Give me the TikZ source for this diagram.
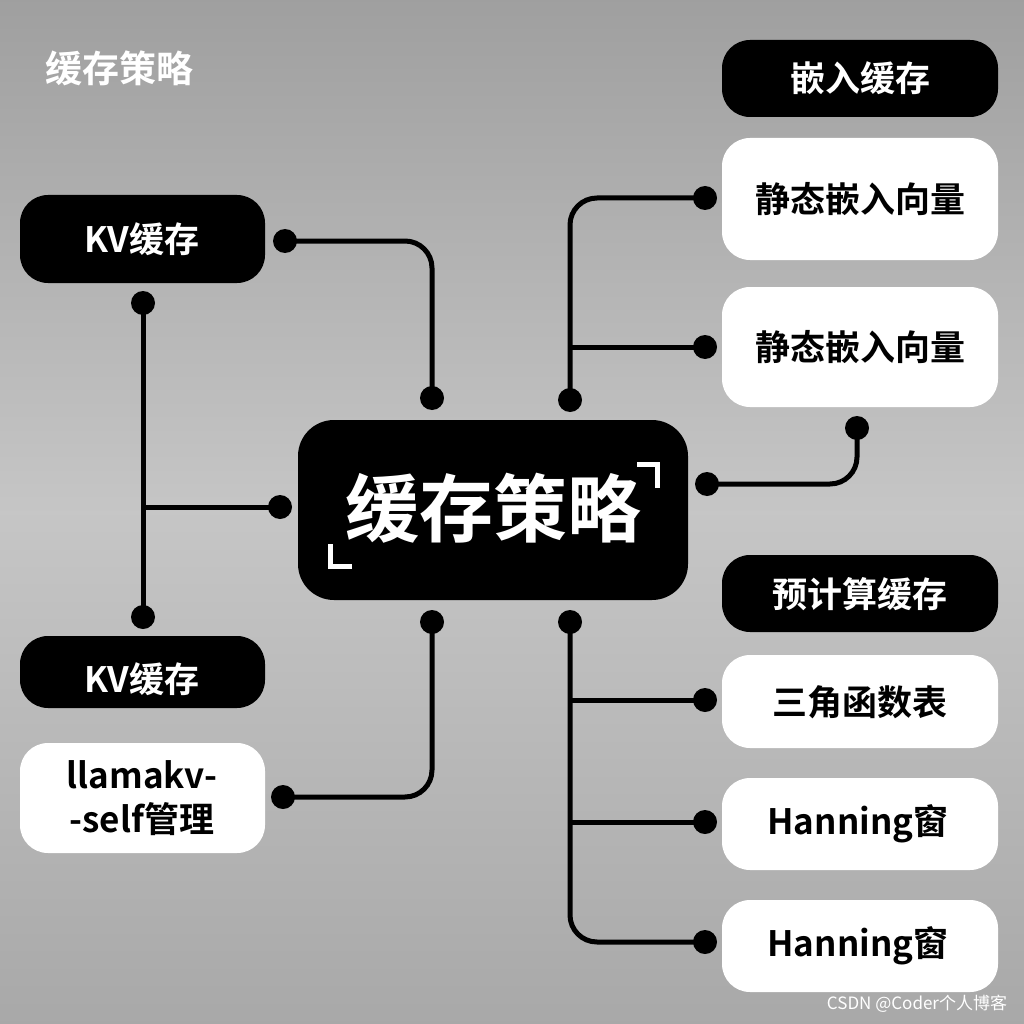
\documentclass[tikz,border=0pt]{standalone}
\usepackage{fontspec}
\setmainfont{Noto Sans CJK SC}[BoldFont={Noto Sans CJK SC Bold}]
\newfontfamily\cjkb{Noto Sans CJK SC Bold}
\begin{document}
\begin{tikzpicture}[x=1pt,y=-1pt,
  blk/.style={draw=none,fill=black,rounded corners=28pt},
  wht/.style={draw=none,fill=white,rounded corners=28pt},
  tx/.style={font=\cjkb\fontsize{35}{42}\selectfont},
  ln/.style={line width=5pt,black},
  dt/.style={circle,fill=black,inner sep=0pt,minimum size=24pt}]
\shade[top color=gray!75,bottom color=gray!68,middle color=gray!45] (0,0) rectangle (1024,1024);
\useasboundingbox (0,0) rectangle (1024,1024);
\node[text=white,font=\cjkb\fontsize{37}{42}\selectfont] (title) at (119,68) {缓存策略};
% boxes
\fill[blk] (20,195) rectangle (265,283); \node[tx,text=white] (kv1) at (142,239) {KV缓存};
\fill[blk] (20,636) rectangle (265,708); \node[tx,text=white] (kv2) at (142,679) {KV缓存};
\fill[wht] (20,743) rectangle (265,853); \node[tx,align=center,font=\cjkb\fontsize{35}{44}\selectfont] (llama) at (142,798) {llamakv-\\-self管理};
\fill[black,rounded corners=36pt] (298,420) rectangle (688,600);
\node[text=white,font=\cjkb\fontsize{74}{80}\selectfont] (c) at (493,508) {缓存策略};
\draw[white,line width=5pt] (637,464)--(657,464)--(657,488) (330,544)--(330,566)--(352,566);
\fill[blk] (722,40) rectangle (998,117); \node[tx,text=white] (e) at (860,78) {嵌入缓存};
\fill[wht] (722,138) rectangle (998,260); \node[tx] (s1) at (860,199) {静态嵌入向量};
\fill[wht] (722,287) rectangle (998,407); \node[tx] (s2) at (860,347) {静态嵌入向量};
\fill[blk] (722,555) rectangle (998,632); \node[tx,text=white] (p) at (860,594) {预计算缓存};
\fill[wht] (722,655) rectangle (998,748); \node[tx] (t) at (860,702) {三角函数表};
\fill[wht] (722,778) rectangle (998,870); \node[tx] (h1) at (858,824) {Hanning窗};
\fill[wht] (722,900) rectangle (998,992); \node[tx] (h2) at (858,946) {Hanning窗};
% dots
\foreach \n/\p in {a/{285,241},b/{432,398},c1/{143,303},c2/{143,617},c3/{280,507},d1/{570,400},d2/{705,198},d3/{705,347},f1/{707,484},f2/{857,428},g1/{432,622},g2/{283,797},h0/{570,622},hh1/{705,700},hh2/{705,822},hh3/{705,942}}
  \node[dt] (\n) at (\p) {};
% connectors
\draw[ln] (a.center) -- (405,241) to[out=0,in=90] (432,268) -- (b.center);
\draw[ln] (c1.center) -- (c2.center);
\draw[ln] (143,507) -- (c3.center);
\draw[ln] (d1.center) -- (570,225) to[out=90,in=180] (597,198) -- (d2.center);
\draw[ln] (570,347) -- (d3.center);
\draw[ln] (f1.center) -- (830,484) to[out=0,in=270] (857,457) -- (f2.center);
\draw[ln] (g1.center) -- (432,770) to[out=270,in=0] (405,797) -- (g2.center);
\draw[ln] (h0.center) -- (570,915) to[out=270,in=180] (597,942) -- (hh3.center);
\draw[ln] (570,700) -- (hh1.center);
\draw[ln] (570,822) -- (hh2.center);
\node[text=white,font=\fontsize{17}{20}\selectfont] (wm) at (917,1004) {CSDN @Coder个人博客};
\end{tikzpicture}
\end{document}
